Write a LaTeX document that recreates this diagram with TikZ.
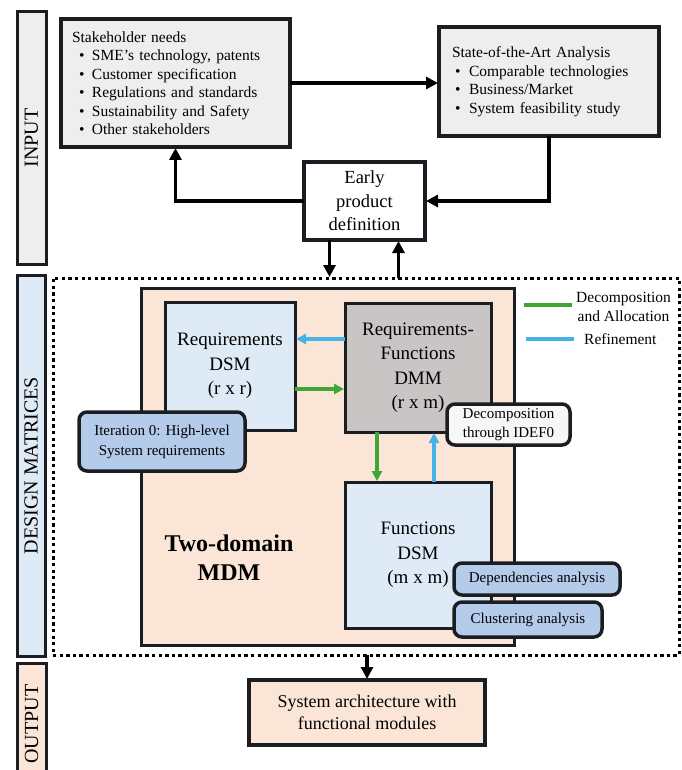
\documentclass[tikz,border=0pt]{standalone}
\usepackage{fontspec}
\setmainfont{Liberation Serif}
\usetikzlibrary{arrows.meta,positioning}

\definecolor{boxgray}{HTML}{EEEEEE}
\definecolor{dsmblue}{HTML}{DEEBF7}
\definecolor{peach}{HTML}{FBE5D6}
\definecolor{dmmgray}{HTML}{C9C5C5}
\definecolor{tagblue}{HTML}{B4CCEA}
\definecolor{decgreen}{HTML}{3FA535}
\definecolor{refblue}{HTML}{45B3E7}
\definecolor{edgedark}{HTML}{1A1E22}

\newcommand{\itm}{\hspace*{7pt}\makebox[13pt][l]{\textbullet}}
\newcommand{\itmb}{\hspace*{3pt}\makebox[14pt][l]{\textbullet}}

\begin{document}
\begin{tikzpicture}[x=1pt, y=-1pt,
  box/.style={draw=edgedark, line width=3.5pt, anchor=north west, inner sep=0pt, outer sep=0pt},
  infobox/.style={box, fill=boxgray, align=left, inner xsep=11pt, font=\fontsize{15.5}{18.5}\selectfont},
  matbox/.style={box, line width=3pt, align=center, font=\fontsize{19}{24.5}\selectfont},
  tag/.style={box, rounded corners=8pt, fill=tagblue, align=center, font=\fontsize{15}{20}\selectfont},
  sidelbl/.style={draw=edgedark, line width=3pt, rotate=90, inner sep=0pt, outer sep=0pt, font=\fontsize{20}{24}\selectfont},
  legtxt/.style={align=center, inner sep=0pt, font=\fontsize{15.5}{19}\selectfont},
  arr/.style={line width=3.5pt, -{Triangle[length=12pt, width=12pt]}, shorten >=1pt},
  decarr/.style={arr, decgreen, -{Triangle[length=10pt, width=10pt]}},
  refarr/.style={arr, refblue, -{Triangle[length=10pt, width=10pt]}},
]
  \useasboundingbox (0,0) rectangle (681,770);
  \clip (0,0) rectangle (681,770);

  % side labels
  \node[sidelbl, fill=boxgray, minimum width=252pt, minimum height=29pt] (inlbl) at (31.5,138) {INPUT};
  \node[sidelbl, fill=dsmblue, minimum width=381pt, minimum height=28pt] (dmlbl) at (31,465.5) {DESIGN MATRICES};
  \node[sidelbl, fill=peach, minimum width=122pt, minimum height=29pt] (outlbl) at (31.5,724) {OUTPUT};

  % input
  \node[infobox, minimum width=229pt, minimum height=128pt, text width=207pt] (stake) at (61,19)
    {Stakeholder needs\\ \itm SME’s technology, patents\\ \itm Customer specification\\
     \itm Regulations and standards\\ \itm Sustainability and Safety\\ \itm Other stakeholders};
  \node[infobox, inner xsep=13pt, minimum width=220pt, minimum height=109pt, text width=194pt] (sota) at (439,27)
    {State-of-the-Art Analysis\\ \itmb Comparable technologies\\ \itmb Business/Market\\ \itmb System feasibility study};
  \node[box, fill=white, minimum width=121pt, minimum height=78pt, align=center,
    font=\fontsize{18.5}{23.5}\selectfont] (early) at (304,162) {Early\\product\\definition};

  % design matrices
  \node[draw, line width=3pt, dash pattern=on 3.3pt off 3.3pt, anchor=north west, inner sep=0pt, outer sep=0pt,
    minimum width=626pt, minimum height=377pt] (dm) at (53,278) {};
  \node[box, line width=3pt, fill=peach, minimum width=373pt, minimum height=357pt] (mdm) at (141,288) {};
  \node[font=\bfseries\fontsize{24}{29}\selectfont, align=center] (mdmlbl) at (229,557.5) {Two-domain\\MDM};
  \node[matbox, fill=dsmblue, minimum width=130pt, minimum height=128pt] (reqdsm) at (165,302) {Requirements\\DSM\\(r x r)};
  \node[matbox, fill=dmmgray, minimum width=146pt, minimum height=129pt] (rfdmm) at (345,303) {Requirements-\\Functions\\DMM\\(r x m)};
  \node[matbox, fill=dsmblue, minimum width=146pt, minimum height=146pt] (fundsm) at (345,482) {Functions\\DSM\\(m x m)};

  \draw[refarr] ([yshift=28.5pt]rfdmm.west) -- ([yshift=28.5pt]rfdmm.west -| reqdsm.east);
  \draw[decarr] ([yshift=-23pt]reqdsm.east) -- ([yshift=-23pt]reqdsm.east -| rfdmm.west);
  \draw[decarr] ([xshift=-41pt]rfdmm.south) -- ([xshift=-41pt]rfdmm.south |- fundsm.north);
  \draw[refarr] ([xshift=16pt]rfdmm.south |- fundsm.north) -- ([xshift=16pt]rfdmm.south);

  \node[tag, line width=3.5pt, minimum width=166pt, minimum height=59pt] (iter) at (79,412) {Iteration 0: High-level\\System requirements};
  \node[tag, fill=white!97!black, minimum width=123pt, minimum height=41pt, font=\fontsize{15}{19}\selectfont] (idef) at (447,404)
    {Decomposition\\through IDEF0};
  \node[tag, minimum width=166pt, minimum height=32pt] (dep) at (454,563) {Dependencies analysis};
  \node[tag, below=7pt of dep.south west, anchor=north west, minimum width=148pt, minimum height=35pt] (clu) {Clustering analysis};

  % legend
  \coordinate (g1) at (524,305);
  \coordinate (g2) at (572,305);
  \coordinate (b1) at (526,339);
  \coordinate (b2) at (574,339);
  \draw[decgreen, line width=3.5pt] (g1) -- (g2);
  \draw[refblue, line width=3.5pt] (b1) -- (b2);
  \node[legtxt, right=4pt of g2, yshift=-2pt] (lgdec) {Decomposition\\and Allocation};
  \node[legtxt, right=10pt of b2] (lgref) {Refinement};

  % output
  \node[box, fill=peach, minimum width=236pt, minimum height=65pt, align=center,
    font=\fontsize{18}{22}\selectfont] (output) at (249,680) {System architecture with\\functional modules};

  % flow
  \draw[arr] (stake.east) -- (stake.east -| sota.west);
  \draw[arr] (sota.south) |- (early.east);
  \draw[arr] (early.west) -| (stake.south);
  \draw[arr] ([xshift=-35pt]early.south) -- ([xshift=-35pt]early.south |- dm.north);
  \draw[arr] ([xshift=34pt]early.south |- dm.north) -- ([xshift=34pt]early.south);
  \draw[arr] (dm.south -| output.north) -- (output.north);

\end{tikzpicture}
\end{document}
